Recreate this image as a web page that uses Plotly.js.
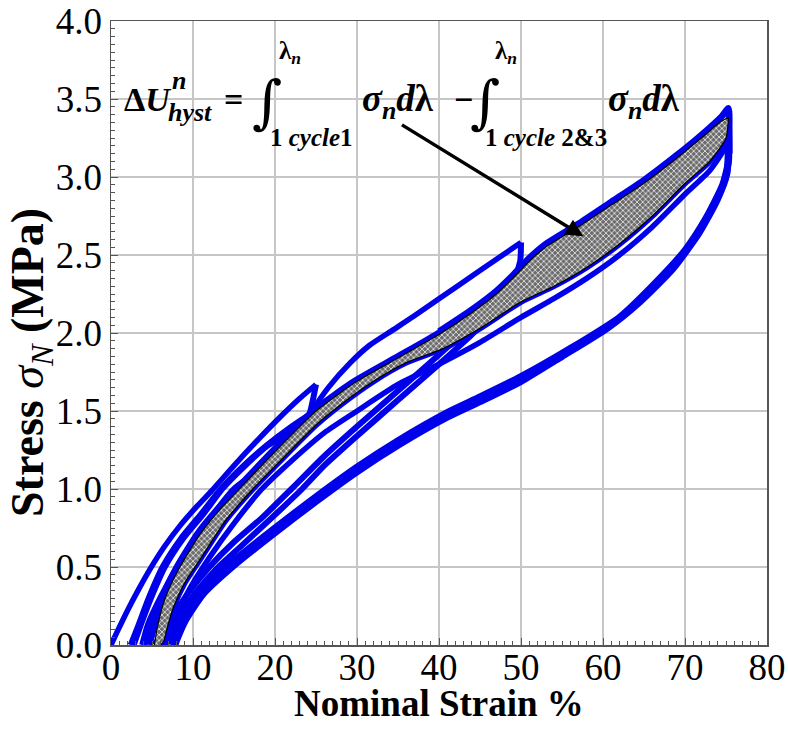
<!DOCTYPE html>
<html>
<head>
<meta charset="utf-8">
<script src="https://cdn.plot.ly/plotly-3.0.1.min.js"></script>
<style>html,body{margin:0;padding:0;background:#fff;}#chart{width:788px;height:731px;}</style>
</head>
<body>
<div id="chart"></div>
<script>
// ---- data (strain %, stress MPa) ----
const virgin25_x = [0,0.8,2,3.4,4.8,6.5,8.5,10.5,12.3,15,18,20.6,23,25];
const virgin25_y = [0,0.09,0.22,0.36,0.49,0.63,0.77,0.89,0.99,1.15,1.32,1.46,1.58,1.67];

const unload25_x = [25,24.2,23.2,20.5,17.5,15,12,9.5,8.1,6,4.5,3.8];
const unload25_y = [1.67,1.48,1.38,1.24,1.1,1.0,0.8,0.6,0.5,0.3,0.13,0];

const reload25_x = [2.4,3.3,4.6,6.3,8.5,11,13.4,16,19,22,24,25];
const reload25_y = [0,0.12,0.3,0.5,0.68,0.84,1.0,1.14,1.28,1.4,1.47,1.5];

const unload25b_x = [25,24.6,23,20,17,15.3,12.5,10,8.3,6.3,4.8,4.1];
const unload25b_y = [1.5,1.42,1.33,1.18,1.04,0.96,0.78,0.6,0.48,0.3,0.13,0];

const load50_x = [2.8,3.6,4.9,6.6,8.8,11.3,13.6,16.2,19.2,22,23.1,24.5,26.5,29.2,31.5,34.4,37,40,45,50];
const load50_y = [0,0.12,0.3,0.5,0.68,0.84,1.0,1.14,1.28,1.36,1.38,1.5,1.65,1.81,1.92,2.02,2.11,2.22,2.4,2.58];

const unload50_x = [50,49.9,49.3,47,44,40,35,30,26,22,18.5,15,12,9.5,7.6,6.2,5.3];
const unload50_y = [2.58,2.46,2.37,2.21,2.05,1.86,1.63,1.4,1.21,1.0,0.82,0.66,0.5,0.34,0.19,0.07,0];

const unload50b_x = [50,49.3,47,44,40,35,30,26,23.3,19.5,16,12.9,10.4,8.4,6.9,6.0];
const unload50b_y = [2.42,2.31,2.15,1.99,1.8,1.57,1.34,1.15,1.0,0.81,0.64,0.49,0.34,0.19,0.07,0];

const reload50_x = [4.7,5.2,6.2,8.0,10.6,13.1,15.8,19.6,24.6,29.6,34.6,39.6,43.6,46.8,48.9,50];
const reload50_y = [0,0.1,0.3,0.5,0.72,0.88,1.03,1.24,1.5,1.69,1.84,1.99,2.13,2.25,2.35,2.42];

const load75_x = [40,44,47,49,51,53,57,61,65,69,72,74.5,75.3,75.4,75.4];
const load75_y = [2.01,2.15,2.27,2.37,2.48,2.57,2.7,2.84,2.98,3.14,3.27,3.39,3.44,3.3,3.15];

const reload75b_x = [6.6,7.5,9.5,12,15,18.4,22,26,30,35,40,45,50,54,58,62,66,70,73,75,75.3];
const reload75b_y = [0,0.12,0.35,0.56,0.78,1.0,1.18,1.36,1.5,1.67,1.8,1.94,2.1,2.22,2.35,2.5,2.68,2.89,3.04,3.2,3.3];

const unload75_x = [75.3,75.3,74.6,72.5,70,66,62,56,50,45,41,35,30,25,20,15,11,8.8,7.6,7.4];
const unload75_y = [3.3,3.1,2.95,2.73,2.53,2.3,2.1,1.9,1.72,1.59,1.49,1.31,1.14,0.95,0.75,0.54,0.35,0.18,0.04,0];

const unload75b_x = [75.3,75.1,73.9,71.7,68.5,64.5,60.5,55,50,45,41,35,30,25,20,15,11.3,9.1,8.0,7.8];
const unload75b_y = [3.2,3.02,2.85,2.64,2.41,2.2,2.03,1.85,1.69,1.56,1.46,1.28,1.11,0.92,0.72,0.51,0.33,0.16,0.03,0];

// hysteresis area between cycle-1 loading and cycle 2&3 loading at 75 %
const grayUpper_x = [5.3,5.6,6.6,8.4,11,13.5,16.2,20,25,30,35,40,44,47,49,51,53,57,61,65,69,72,74.5,75.3];
const grayUpper_y = [0,0.1,0.3,0.5,0.72,0.88,1.03,1.24,1.5,1.69,1.84,1.99,2.13,2.25,2.35,2.46,2.55,2.68,2.82,2.96,3.12,3.25,3.36,3.38];
const grayLower_x = [6.0,6.4,6.8,7.6,9,11,14,17.3,21,25,28,32,36,40.5,45,50,54,58,62,66,70,73,75,75.3];
const grayLower_y = [0,0.02,0.1,0.24,0.4,0.56,0.8,1.0,1.2,1.41,1.54,1.69,1.81,1.9,2.03,2.2,2.3,2.42,2.57,2.75,2.96,3.1,3.25,3.38];

// arrow (tail -> head)
const arrowTail = [35.3, 3.34];
const arrowHead = [57.6, 2.62];

const xTicks = [0,10,20,30,40,50,60,70,80];
const yTicks = [0,0.5,1,1.5,2,2.5,3,3.5,4];

// ---- drawing ----
const BLUE = 'rgb(0,0,235)';
function blue(x, y, w){
  return {x:x, y:y, type:'scatter', mode:'lines', line:{color:BLUE, width:w, shape:'spline', smoothing:0.6},
    hoverinfo:'skip', showlegend:false};
}
const traces = [
  blue(virgin25_x, virgin25_y, 5.5),
  blue(unload25_x, unload25_y, 6),
  blue(reload25_x, reload25_y, 6),
  blue(unload25b_x, unload25b_y, 6),
  blue(load50_x, load50_y, 5.5),
  blue(unload50_x, unload50_y, 6),
  blue(unload50b_x, unload50b_y, 6),
  blue(reload50_x, reload50_y, 6),
  blue(unload75_x, unload75_y, 7),
  blue(unload75b_x, unload75b_y, 7),
  blue(reload75b_x, reload75b_y, 5.5),
  blue(grayLower_x, grayLower_y, 6),
  blue(load75_x, load75_y, 6.5),
  {
    x: grayUpper_x.concat(grayLower_x.slice().reverse()),
    y: grayUpper_y.concat(grayLower_y.slice().reverse()),
    type:'scatter', mode:'lines', fill:'toself',
    fillcolor:'#7a7a7a',
    fillpattern:{shape:'x', size:4, solidity:0.35, bgcolor:'#6c6c6c', fgcolor:'#f2f2f2'},
    line:{color:'black', width:1.2, shape:'spline', smoothing:0.6}, hoverinfo:'skip', showlegend:false
  }
];

function px(x){ return (x-111)/656; }
function py(y){ return (645-y)/624; }
const F = '"Liberation Serif", "Times New Roman", serif';
function ann(text, x, y, size, extra){
  return Object.assign({text:text, xref:'paper', yref:'paper', x:px(x), y:py(y), xanchor:'left', yanchor:'middle',
    showarrow:false, font:{family:F, size:size, color:'#000'}}, extra||{});
}
const INT = {font:{family:'"DejaVu Serif", serif', size:58, color:'#000'}};
const annotations = [
  ann('<b>Δ<i>U</i></b>', 122, 99, 34),
  ann('<b><i>n</i></b>', 170, 80, 26),
  ann('<b><i>hyst</i></b>', 166, 112, 26),
  ann('<b>=</b>', 222, 99, 34),
  ann('<i>∫</i>', 250, 102, 58, INT),
  ann('<b>λ<sub><i>n</i></sub></b>', 277, 52, 25),
  ann('<b>1 <i>cycle</i>1</b>', 268, 137, 25),
  ann('<b><i>σ</i><sub><i>n</i></sub><i>d</i>λ</b>', 360, 101, 37),
  ann('<b>−</b>', 452, 99, 34),
  ann('<i>∫</i>', 468, 102, 58, INT),
  ann('<b>λ<sub><i>n</i></sub></b>', 493, 52, 25),
  ann('<b>1 <i>cycle</i> 2&amp;3</b>', 483, 137, 25),
  ann('<b><i>σ</i><sub><i>n</i></sub><i>d</i>λ</b>', 606, 101, 37),
  // axis titles
  ann('<b>Nominal Strain %</b>', 439, 703, 37, {xanchor:'center'}),
  ann('<b>Stress</b> <i>σ<sub>N</sub></i> <b>(MPa)</b>', 31, 363, 46, {xanchor:'center', textangle:-90}),
  // arrow
  {x:arrowHead[0], y:arrowHead[1], ax:arrowTail[0], ay:arrowTail[1], xref:'x', yref:'y', axref:'x', ayref:'y',
   text:'', showarrow:true, arrowhead:2, arrowsize:1, arrowwidth:3.5, arrowcolor:'#000', standoff:0}
];

const axisCommon = {
  showgrid:true, gridcolor:'#c6c6c6', gridwidth:1.2, zeroline:false,
  showline:true, linecolor:'#555', linewidth:1.5, mirror:true,
  ticks:'inside', ticklen:7, tickcolor:'#555', tickwidth:1,
  tickfont:{family:F, size:37, color:'#000'}, fixedrange:true
};

const layout = {
  width:788, height:731,
  margin:{l:111, r:21, t:21, b:86},
  paper_bgcolor:'#fff', plot_bgcolor:'#fff',
  showlegend:false,
  xaxis:Object.assign({}, axisCommon, {range:[0,80], tickvals:xTicks, ticktext:xTicks.map(String),
    ticklabelstandoff:-11,
    minor:{dtick:1, ticks:'inside', ticklen:4, tickcolor:'#555', showgrid:false}}),
  yaxis:Object.assign({}, axisCommon, {range:[0,4], tickvals:yTicks, ticktext:yTicks.map(v=>v.toFixed(1)),
    minor:{dtick:0.05, ticks:'inside', ticklen:4, tickcolor:'#555', showgrid:false}}),
  shapes:[
    {type:'rect', xref:'paper', yref:'paper', x0:0, x1:px(689), y0:py(123), y1:1, fillcolor:'#fff', line:{width:0}, layer:'between'}
  ],
  annotations:annotations
};

Plotly.newPlot('chart', traces, layout, {displayModeBar:false, staticPlot:true});
</script>
</body>
</html>
